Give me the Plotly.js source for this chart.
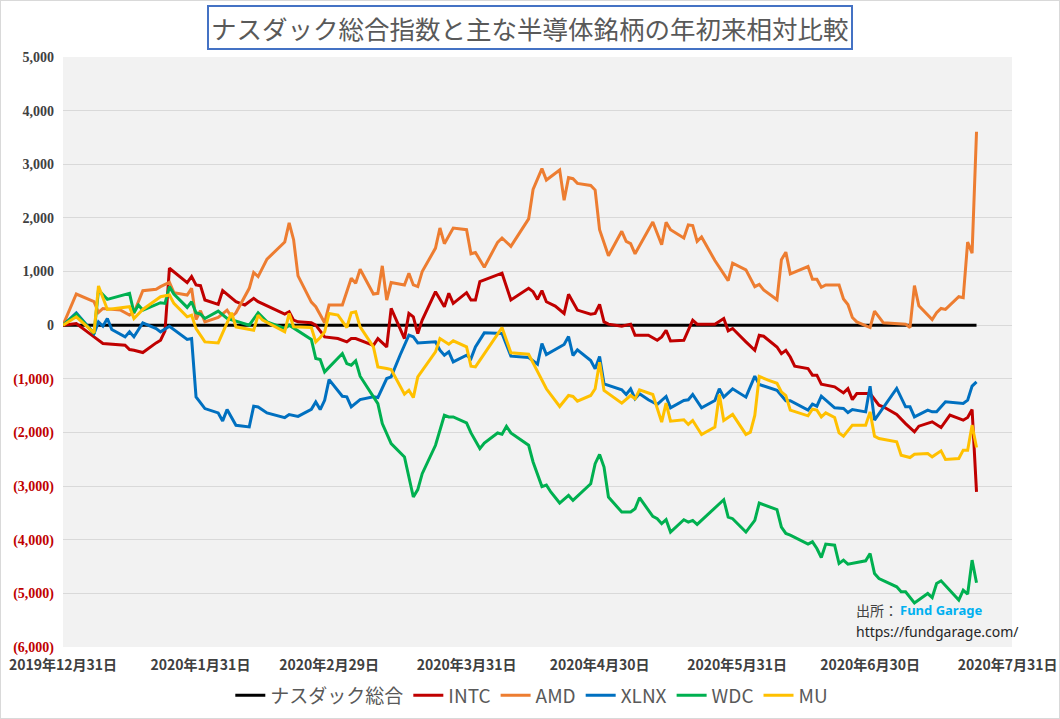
<!DOCTYPE html>
<html>
<head>
<meta charset="utf-8">
<script src="https://cdn.plot.ly/plotly-3.0.1.min.js"></script>
<style>
  html, body { margin: 0; padding: 0; background: #ffffff; }
  #wrap { position: relative; width: 1060px; height: 719px; }
  #chart { position: absolute; left: 0; top: 0; width: 1060px; height: 719px; }
  #frame { position: absolute; left: 0; top: 0; width: 1058px; height: 717px; border: 1px solid #D9D9D9; pointer-events: none; }
</style>
</head>
<body>
<div id="wrap"><div id="chart"></div><div id="frame"></div></div>
<script>
// ---- Data ----
const TITLE = 'ナスダック総合指数と主な半導体銘柄の年初来相対比較';
const SERIES_NAMES = ['ナスダック総合', 'INTC', 'AMD', 'XLNX', 'WDC', 'MU'];
const SERIES_COLORS = ['#000000', '#C00000', '#ED7D31', '#0070C0', '#00B050', '#FFC000'];

const X_TICK_DATES = ['2019-12-31','2020-01-31','2020-02-29','2020-03-31','2020-04-30','2020-05-31','2020-06-30','2020-07-31'];
const X_TICK_LABELS = ['2019年12月31日','2020年1月31日','2020年2月29日','2020年3月31日','2020年4月30日','2020年5月31日','2020年6月30日','2020年7月31日'];
const Y_TICK_VALUES = [5000, 4000, 3000, 2000, 1000, 0, -1000, -2000, -3000, -4000, -5000, -6000];
const Y_TICK_LABELS = ['5,000','4,000','3,000','2,000','1,000','0','(1,000)','(2,000)','(3,000)','(4,000)','(5,000)','(6,000)'];

const NASDAQ = [["2019-12-31",0],["2020-07-24",0]];

const INTC = [["2019-12-31",0],["2020-01-03",31],["2020-01-07",-218],["2020-01-09",-342],["2020-01-14",-373],["2020-01-15",-454],["2020-01-16",-467],["2020-01-18",-510],["2020-01-21",-330],["2020-01-22",-280],["2020-01-23",-105],["2020-01-24",1062],["2020-01-28",794],["2020-01-29",906],["2020-01-30",750],["2020-01-31",737],["2020-02-01",469],["2020-02-04",388],["2020-02-05",644],["2020-02-08",438],["2020-02-10",375],["2020-02-12",500],["2020-02-13",438],["2020-02-19",206],["2020-02-20",250],["2020-02-21",94],["2020-02-22",62],["2020-02-25",44],["2020-02-26",0],["2020-02-28",-219],["2020-03-02",-250],["2020-03-04",-312],["2020-03-05",-250],["2020-03-06",-250],["2020-03-10",-375],["2020-03-11",-250],["2020-03-13",-406],["2020-03-14",312],["2020-03-17",-250],["2020-03-18",219],["2020-03-19",156],["2020-03-20",-156],["2020-03-21",94],["2020-03-24",625],["2020-03-26",344],["2020-03-27",594],["2020-03-28",406],["2020-03-31",606],["2020-04-01",469],["2020-04-02",469],["2020-04-03",812],["2020-04-08",969],["2020-04-10",469],["2020-04-14",687],["2020-04-15",625],["2020-04-16",481],["2020-04-17",644],["2020-04-18",437],["2020-04-20",356],["2020-04-22",219],["2020-04-23",575],["2020-04-25",281],["2020-04-28",206],["2020-04-29",219],["2020-04-30",387],["2020-05-01",62],["2020-05-02",19],["2020-05-05",-19],["2020-05-07",19],["2020-05-08",-187],["2020-05-11",-187],["2020-05-13",-281],["2020-05-14",-219],["2020-05-15",-94],["2020-05-16",-294],["2020-05-19",-281],["2020-05-21",94],["2020-05-22",19],["2020-05-26",19],["2020-05-28",125],["2020-05-29",-106],["2020-05-30",-62],["2020-06-02",-312],["2020-06-04",-469],["2020-06-05",-187],["2020-06-06",-206],["2020-06-09",-406],["2020-06-10",-531],["2020-06-11",-469],["2020-06-12",-594],["2020-06-13",-764],["2020-06-16",-808],["2020-06-17",-932],["2020-06-18",-932],["2020-06-19",-1100],["2020-06-22",-1150],["2020-06-24",-1262],["2020-06-25",-1182],["2020-06-26",-1387],["2020-06-27",-1275],["2020-06-30",-1275],["2020-07-02",-1491],["2020-07-03",-1522],["2020-07-06",-1666],["2020-07-08",-1834],["2020-07-10",-1988],["2020-07-11",-1883],["2020-07-14",-1802],["2020-07-16",-1909],["2020-07-18",-1678],["2020-07-21",-1771],["2020-07-22",-1722],["2020-07-23",-1572],["2020-07-24",-3108]];

const AMD = [["2019-12-31",0],["2020-01-03",581],["2020-01-07",437],["2020-01-08",237],["2020-01-09",312],["2020-01-13",281],["2020-01-15",187],["2020-01-16",231],["2020-01-18",644],["2020-01-21",669],["2020-01-22",719],["2020-01-24",800],["2020-01-25",606],["2020-01-28",562],["2020-01-29",687],["2020-01-30",106],["2020-01-31",269],["2020-02-01",62],["2020-02-04",144],["2020-02-06",281],["2020-02-07",156],["2020-02-08",231],["2020-02-11",687],["2020-02-12",981],["2020-02-13",906],["2020-02-15",1231],["2020-02-19",1550],["2020-02-20",1906],["2020-02-21",1594],["2020-02-22",920],["2020-02-25",430],["2020-02-26",344],["2020-02-28",44],["2020-02-29",375],["2020-03-03",375],["2020-03-05",875],["2020-03-06",781],["2020-03-07",1044],["2020-03-10",581],["2020-03-11",594],["2020-03-12",1106],["2020-03-13",469],["2020-03-14",794],["2020-03-17",750],["2020-03-18",969],["2020-03-19",750],["2020-03-20",719],["2020-03-21",1000],["2020-03-24",1437],["2020-03-25",1812],["2020-03-26",1519],["2020-03-28",1812],["2020-03-31",1781],["2020-04-01",1331],["2020-04-02",1356],["2020-04-04",1081],["2020-04-07",1544],["2020-04-08",1625],["2020-04-10",1469],["2020-04-14",1981],["2020-04-15",2531],["2020-04-17",2919],["2020-04-18",2706],["2020-04-21",2894],["2020-04-22",2331],["2020-04-23",2750],["2020-04-24",2731],["2020-04-25",2644],["2020-04-28",2606],["2020-04-29",2519],["2020-04-30",1781],["2020-05-02",1294],["2020-05-05",1750],["2020-05-06",1562],["2020-05-07",1519],["2020-05-08",1331],["2020-05-12",1925],["2020-05-14",1500],["2020-05-15",1919],["2020-05-16",1781],["2020-05-19",1625],["2020-05-20",1869],["2020-05-21",1856],["2020-05-22",1562],["2020-05-23",1644],["2020-05-26",1206],["2020-05-29",831],["2020-05-30",1156],["2020-06-02",1031],["2020-06-04",719],["2020-06-05",762],["2020-06-06",656],["2020-06-09",475],["2020-06-10",1219],["2020-06-11",1362],["2020-06-12",956],["2020-06-16",1094],["2020-06-17",856],["2020-06-18",856],["2020-06-19",706],["2020-06-20",750],["2020-06-23",750],["2020-06-24",487],["2020-06-25",387],["2020-06-26",144],["2020-06-27",62],["2020-06-30",-44],["2020-07-01",262],["2020-07-03",44],["2020-07-08",19],["2020-07-09",-44],["2020-07-10",737],["2020-07-11",362],["2020-07-14",106],["2020-07-15",231],["2020-07-16",312],["2020-07-17",294],["2020-07-20",531],["2020-07-21",512],["2020-07-22",1550],["2020-07-23",1344],["2020-07-24",3606]];

const XLNX = [["2019-12-31",0],["2020-01-03",230],["2020-01-07",-155],["2020-01-08",62],["2020-01-09",-19],["2020-01-10",124],["2020-01-11",-81],["2020-01-14",-218],["2020-01-15",-124],["2020-01-16",-218],["2020-01-18",44],["2020-01-21",-62],["2020-01-22",-124],["2020-01-24",-19],["2020-01-28",-267],["2020-01-29",-249],["2020-01-30",-1337],["2020-02-01",-1555],["2020-02-04",-1636],["2020-02-05",-1785],["2020-02-06",-1574],["2020-02-08",-1866],["2020-02-11",-1897],["2020-02-12",-1511],["2020-02-13",-1524],["2020-02-15",-1636],["2020-02-19",-1723],["2020-02-20",-1667],["2020-02-22",-1700],["2020-02-25",-1570],["2020-02-26",-1431],["2020-02-27",-1574],["2020-02-28",-1400],["2020-02-29",-1014],["2020-03-03",-1325],["2020-03-04",-1337],["2020-03-05",-1524],["2020-03-07",-1387],["2020-03-10",-1337],["2020-03-11",-1350],["2020-03-13",-995],["2020-03-14",-964],["2020-03-16",-560],["2020-03-18",-187],["2020-03-19",-218],["2020-03-20",-330],["2020-03-24",-311],["2020-03-25",-467],["2020-03-26",-560],["2020-03-27",-498],["2020-03-28",-684],["2020-03-31",-560],["2020-04-01",-622],["2020-04-02",-404],["2020-04-04",-143],["2020-04-07",-155],["2020-04-08",-155],["2020-04-10",-578],["2020-04-14",-603],["2020-04-16",-728],["2020-04-17",-342],["2020-04-18",-547],["2020-04-21",-410],["2020-04-22",-360],["2020-04-23",-211],["2020-04-24",-565],["2020-04-25",-460],["2020-04-28",-658],["2020-04-29",-814],["2020-04-30",-584],["2020-05-01",-1093],["2020-05-05",-1205],["2020-05-06",-1292],["2020-05-07",-1186],["2020-05-08",-1373],["2020-05-09",-1280],["2020-05-11",-1391],["2020-05-13",-1478],["2020-05-15",-1329],["2020-05-16",-1540],["2020-05-19",-1404],["2020-05-20",-1391],["2020-05-21",-1292],["2020-05-23",-1540],["2020-05-26",-1404],["2020-05-27",-1186],["2020-05-28",-1342],["2020-05-30",-1186],["2020-06-02",-1342],["2020-06-04",-950],["2020-06-05",-1106],["2020-06-07",-1161],["2020-06-09",-1215],["2020-06-11",-1408],["2020-06-12",-1408],["2020-06-16",-1584],["2020-06-17",-1473],["2020-06-18",-1510],["2020-06-19",-1323],["2020-06-22",-1541],["2020-06-24",-1553],["2020-06-25",-1628],["2020-06-26",-1572],["2020-06-29",-1616],["2020-06-30",-1137],["2020-07-01",-1771],["2020-07-06",-1180],["2020-07-08",-1522],["2020-07-09",-1522],["2020-07-10",-1709],["2020-07-13",-1584],["2020-07-14",-1616],["2020-07-15",-1616],["2020-07-17",-1429],["2020-07-21",-1461],["2020-07-22",-1398],["2020-07-23",-1137],["2020-07-24",-1057]];

const WDC = [["2019-12-31",0],["2020-01-03",206],["2020-01-07",-156],["2020-01-08",656],["2020-01-10",481],["2020-01-15",594],["2020-01-16",231],["2020-01-17",375],["2020-01-18",281],["2020-01-22",419],["2020-01-23",406],["2020-01-24",719],["2020-01-25",581],["2020-01-28",331],["2020-01-29",437],["2020-01-30",231],["2020-01-31",206],["2020-02-01",125],["2020-02-04",262],["2020-02-06",125],["2020-02-11",0],["2020-02-13",231],["2020-02-15",62],["2020-02-19",-62],["2020-02-20",0],["2020-02-22",-106],["2020-02-25",-265],["2020-02-26",-622],["2020-02-27",-641],["2020-02-28",-871],["2020-03-03",-529],["2020-03-04",-715],["2020-03-05",-746],["2020-03-06",-666],["2020-03-07",-952],["2020-03-11",-1462],["2020-03-12",-1835],["2020-03-14",-2208],["2020-03-17",-2457],["2020-03-19",-3203],["2020-03-20",-3066],["2020-03-21",-2768],["2020-03-24",-2239],["2020-03-26",-1679],["2020-03-27",-1710],["2020-03-28",-1710],["2020-03-31",-1822],["2020-04-01",-2009],["2020-04-03",-2301],["2020-04-04",-2196],["2020-04-07",-2009],["2020-04-08",-2034],["2020-04-09",-1885],["2020-04-10",-2009],["2020-04-14",-2239],["2020-04-15",-2550],["2020-04-17",-3010],["2020-04-18",-2980],["2020-04-19",-3110],["2020-04-21",-3316],["2020-04-23",-3174],["2020-04-24",-3267],["2020-04-28",-2956],["2020-04-29",-2583],["2020-04-30",-2410],["2020-05-01",-2646],["2020-05-02",-3205],["2020-05-05",-3484],["2020-05-07",-3484],["2020-05-08",-3422],["2020-05-09",-3217],["2020-05-12",-3565],["2020-05-13",-3608],["2020-05-14",-3701],["2020-05-15",-3627],["2020-05-16",-3857],["2020-05-19",-3627],["2020-05-20",-3670],["2020-05-21",-3639],["2020-05-22",-3714],["2020-05-23",-3639],["2020-05-28",-3254],["2020-05-29",-3577],["2020-05-30",-3608],["2020-06-02",-3857],["2020-06-04",-3639],["2020-06-05",-3316],["2020-06-07",-3374],["2020-06-09",-3440],["2020-06-10",-3764],["2020-06-11",-3883],["2020-06-12",-3914],["2020-06-16",-4082],["2020-06-17",-4039],["2020-06-18",-4163],["2020-06-19",-4331],["2020-06-20",-4082],["2020-06-22",-4101],["2020-06-23",-4443],["2020-06-24",-4380],["2020-06-25",-4455],["2020-06-29",-4393],["2020-06-30",-4256],["2020-07-01",-4629],["2020-07-02",-4723],["2020-07-06",-4878],["2020-07-07",-4972],["2020-07-08",-4972],["2020-07-10",-5177],["2020-07-13",-5003],["2020-07-14",-5078],["2020-07-15",-4816],["2020-07-16",-4766],["2020-07-20",-5126],["2020-07-21",-4940],["2020-07-22",-5014],["2020-07-23",-4380],["2020-07-24",-4803]];

const MU = [["2019-12-31",0],["2020-01-03",156],["2020-01-07",-144],["2020-01-08",731],["2020-01-10",294],["2020-01-15",344],["2020-01-16",125],["2020-01-18",294],["2020-01-22",531],["2020-01-24",562],["2020-01-25",406],["2020-01-28",156],["2020-01-29",187],["2020-01-30",-62],["2020-02-01",-312],["2020-02-04",-331],["2020-02-07",231],["2020-02-08",-31],["2020-02-12",-94],["2020-02-13",187],["2020-02-14",94],["2020-02-19",-125],["2020-02-20",219],["2020-02-21",-31],["2020-02-25",-44],["2020-02-26",-311],["2020-02-27",-230],["2020-02-28",-124],["2020-02-29",218],["2020-03-02",187],["2020-03-04",-44],["2020-03-05",230],["2020-03-06",249],["2020-03-07",-31],["2020-03-10",-404],["2020-03-11",-778],["2020-03-13",-809],["2020-03-14",-827],["2020-03-17",-1287],["2020-03-18",-1213],["2020-03-19",-1350],["2020-03-20",-964],["2020-03-24",-498],["2020-03-25",-249],["2020-03-27",-355],["2020-03-28",-292],["2020-03-31",-404],["2020-04-01",-765],["2020-04-02",-778],["2020-04-03",-653],["2020-04-08",-44],["2020-04-10",-516],["2020-04-14",-541],["2020-04-15",-703],["2020-04-17",-1013],["2020-04-18",-1186],["2020-04-21",-1516],["2020-04-23",-1311],["2020-04-24",-1329],["2020-04-25",-1416],["2020-04-28",-1311],["2020-04-29",-1186],["2020-04-30",-689],["2020-05-01",-1217],["2020-05-05",-1453],["2020-05-07",-1311],["2020-05-08",-1373],["2020-05-09",-1205],["2020-05-12",-1292],["2020-05-14",-1807],["2020-05-15",-1453],["2020-05-16",-1789],["2020-05-19",-1764],["2020-05-20",-1851],["2020-05-21",-1776],["2020-05-23",-2037],["2020-05-26",-1901],["2020-05-27",-1292],["2020-05-28",-1776],["2020-05-30",-1664],["2020-06-02",-2037],["2020-06-03",-1994],["2020-06-04",-1683],["2020-06-05",-956],["2020-06-07",-1025],["2020-06-09",-1084],["2020-06-10",-1243],["2020-06-11",-1311],["2020-06-12",-1584],["2020-06-16",-1690],["2020-06-17",-1566],["2020-06-18",-1584],["2020-06-19",-1709],["2020-06-20",-1634],["2020-06-22",-1722],["2020-06-23",-2008],["2020-06-24",-2069],["2020-06-26",-1864],["2020-06-29",-1864],["2020-06-30",-1616],["2020-07-01",-2069],["2020-07-02",-2113],["2020-07-06",-2175],["2020-07-07",-2423],["2020-07-09",-2467],["2020-07-10",-2405],["2020-07-13",-2392],["2020-07-14",-2455],["2020-07-16",-2343],["2020-07-17",-2504],["2020-07-20",-2486],["2020-07-21",-2330],["2020-07-22",-2330],["2020-07-23",-1864],["2020-07-24",-2280]];

// ---- Build chart ----
const SERIES_DATA = [NASDAQ, INTC, AMD, XLNX, WDC, MU];
const traces = SERIES_DATA.map((s, i) => ({
  type: 'scatter',
  mode: 'lines',
  name: SERIES_NAMES[i],
  x: s.map(p => p[0]),
  y: s.map(p => p[1]),
  line: { color: SERIES_COLORS[i], width: 3 },
  hoverinfo: 'skip'
}));

const yTickText = Y_TICK_VALUES.map((v, i) =>
  v < 0 ? '<span style="color:#C00000">' + Y_TICK_LABELS[i] + '</span>' : Y_TICK_LABELS[i]);

const layout = {
  width: 1060,
  height: 719,
  margin: { l: 63, r: 48, t: 57, b: 72, autoexpand: false },
  paper_bgcolor: '#ffffff',
  plot_bgcolor: '#F2F2F2',
  showlegend: true,
  legend: {
    orientation: 'h',
    x: 0.494, xanchor: 'center',
    y: -0.082, yanchor: 'middle',
    font: { family: 'Noto Sans CJK JP', size: 19, color: '#595959' },
    bgcolor: 'rgba(0,0,0,0)',
    traceorder: 'normal'
  },
  xaxis: {
    type: 'date',
    range: ['2019-12-31', '2020-08-01'],
    tickvals: X_TICK_DATES,
    ticktext: X_TICK_LABELS,
    showgrid: false,
    zeroline: false,
    showline: false,
    ticks: '',
    ticklabelstandoff: 8,
    tickfont: { family: 'Noto Sans CJK JP', size: 14, color: '#404040', weight: 'bold' },
    fixedrange: true
  },
  yaxis: {
    range: [-6000, 5000],
    tickvals: Y_TICK_VALUES,
    ticktext: yTickText,
    showgrid: true,
    gridcolor: '#D9D9D9',
    gridwidth: 1,
    zeroline: false,
    showline: false,
    ticks: '',
    ticklabelstandoff: 8,
    tickfont: { family: 'Liberation Serif', size: 14, color: '#404040', weight: 'bold' },
    fixedrange: true
  },
  annotations: [
    {
      text: TITLE,
      xref: 'paper', yref: 'paper',
      x: 0.4926, y: 1.05,
      xanchor: 'center', yanchor: 'middle',
      showarrow: false,
      font: { family: 'Noto Sans CJK JP', size: 25.5, color: '#595959' },
      bgcolor: '#ffffff',
      bordercolor: '#4472C4',
      borderwidth: 2,
      borderpad: 2
    },
    {
      text: '出所：',
      xref: 'paper', yref: 'paper',
      x: 0.834, y: 0.063,
      xanchor: 'left', yanchor: 'middle', align: 'left',
      showarrow: false,
      font: { family: 'Noto Sans CJK JP', size: 14, color: '#404040' }
    },
    {
      text: '<b>Fund Garage</b>',
      xref: 'paper', yref: 'paper',
      x: 0.880, y: 0.063,
      xanchor: 'left', yanchor: 'middle',
      showarrow: false,
      font: { family: 'Noto Sans', size: 13, color: '#00B0F0' }
    },
    {
      text: 'https://fundgarage.com/',
      xref: 'paper', yref: 'paper',
      x: 0.834, y: 0.026,
      xanchor: 'left', yanchor: 'middle',
      showarrow: false,
      font: { family: 'Noto Sans', size: 14, color: '#262626' }
    }
  ]
};

Plotly.newPlot('chart', traces, layout, { displayModeBar: false, staticPlot: true });
</script>
</body>
</html>
